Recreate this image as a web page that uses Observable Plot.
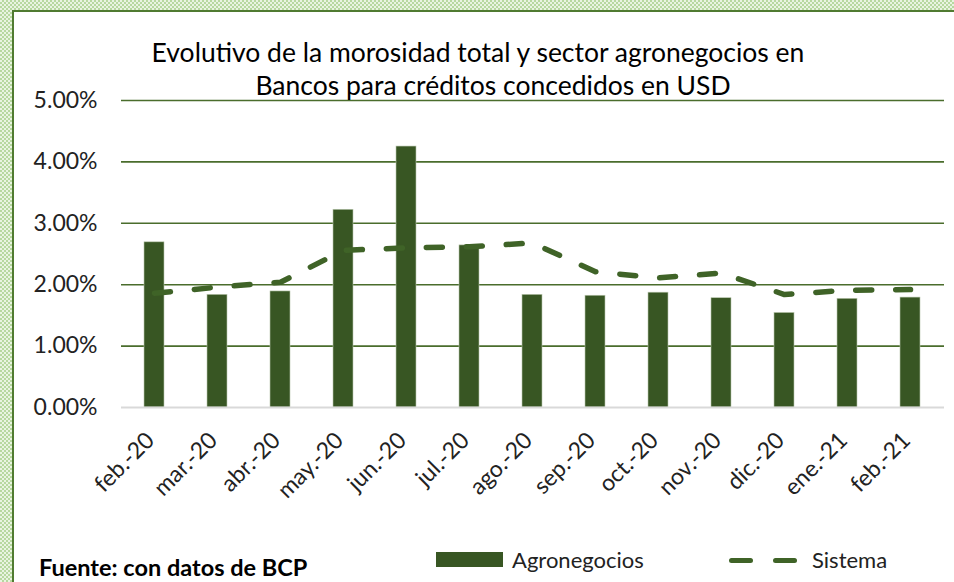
<!DOCTYPE html>
<html>
<head>
<meta charset="utf-8">
<script src="https://cdn.jsdelivr.net/npm/d3@7"></script>
<script src="https://cdn.jsdelivr.net/npm/@observablehq/plot@0.6"></script>
<style>
  html, body { margin: 0; padding: 0; width: 954px; height: 582px; overflow: hidden; }
  body {
    background-color: #d5e9c7;
    background-image: repeating-conic-gradient(#b7d8a0 0 25%, #e9f4e1 0 50%);
    background-size: 4px 4px;
    font-family: Lato, "Open Sans", sans-serif;
  }
  #frame {
    position: absolute; left: 12px; top: 10px; right: 0; bottom: 0;
    background: #ffffff;
    border-left: 2px solid #507b31;
    border-top: 2px solid #507b31;
  }
  #chart { position: absolute; left: 0; top: 0; }
  .t { position: absolute; white-space: nowrap; transform: translate(-50%, -50%); font-size: 26.5px; color: #000; }
  .lg { position: absolute; white-space: nowrap; transform: translateY(-50%); font-size: 22px; color: #222; }
  .sw { position: absolute; background: #385623; }
  .dash { position: absolute; background: #3f6327; height: 5px; border-radius: 3px; }
  #src { position: absolute; left: 25px; top: 555px; transform: translateY(-50%); font-size: 23.5px; font-weight: bold; color: #000; white-space: nowrap; }
</style>
</head>
<body>
<div id="frame">
  <div id="chart"></div>
  <div class="t" style="left:464px; top:40px;">Evolutivo de la morosidad total y sector agronegocios en</div>
  <div class="t" style="left:479px; top:73px;">Bancos para créditos concedidos en USD</div>
  <div class="sw" style="left:422px; top:540px; width:67px; height:15px;"></div>
  <div class="lg" style="left:498px; top:547px;">Agronegocios</div>
  <div class="dash" style="left:715px; top:546px; width:24px;"></div>
  <div class="dash" style="left:759px; top:546px; width:24px;"></div>
  <div class="lg" style="left:798px; top:547px;">Sistema</div>
  <div id="src">Fuente: con datos de BCP</div>
</div>
<script>
const months = ["feb.-20","mar.-20","abr.-20","may.-20","jun.-20","jul.-20","ago.-20","sep.-20","oct.-20","nov.-20","dic.-20","ene.-21","feb.-21"];
const agronegocios = [2.69, 1.835, 1.89, 3.22, 4.25, 2.64, 1.835, 1.82, 1.87, 1.78, 1.54, 1.77, 1.79];
const sistema = [1.86, 1.96, 2.04, 2.56, 2.60, 2.62, 2.68, 2.21, 2.11, 2.19, 1.84, 1.91, 1.92];
const yTicks = [0, 1, 2, 3, 4, 5];

const rows = months.map((m, i) => ({month: m, agro: agronegocios[i], sis: sistema[i]}));

const chart = Plot.plot({
  width: 940,
  height: 570,
  marginLeft: 107,
  marginRight: 10,
  marginTop: 88,
  marginBottom: 175,
  style: {background: "transparent", fontFamily: "Lato, 'Open Sans', sans-serif", fontSize: "22px", color: "#222"},
  x: {domain: months, paddingInner: 0.68, paddingOuter: 0.34, label: null},
  y: {domain: [0, 5], label: null},
  marks: [
    Plot.ruleY(yTicks.filter(d => d > 0), {stroke: "#4a6d2c", strokeWidth: 1.6}),
    Plot.barY(rows, {x: "month", y: "agro", fill: "#385623", stroke: "#b9c6ad", strokeWidth: 0.6}),
    Plot.ruleY([0], {stroke: "#d9d9d9", strokeWidth: 2}),
    Plot.line(rows, {x: "month", y: "sis", stroke: "#3f6327", strokeWidth: 5.5, strokeDasharray: "16,24", strokeLinecap: "round", strokeLinejoin: "round"}),
    Plot.axisY({ticks: yTicks, tickSize: 0, tickPadding: 24, tickFormat: d => d.toFixed(2) + "%", fontSize: 23}),
    Plot.axisX({tickSize: 0, tickPadding: 29, tickRotate: -45, fontSize: 23, dx: -4})
  ]
});
document.getElementById("chart").appendChild(chart);
</script>
</body>
</html>
